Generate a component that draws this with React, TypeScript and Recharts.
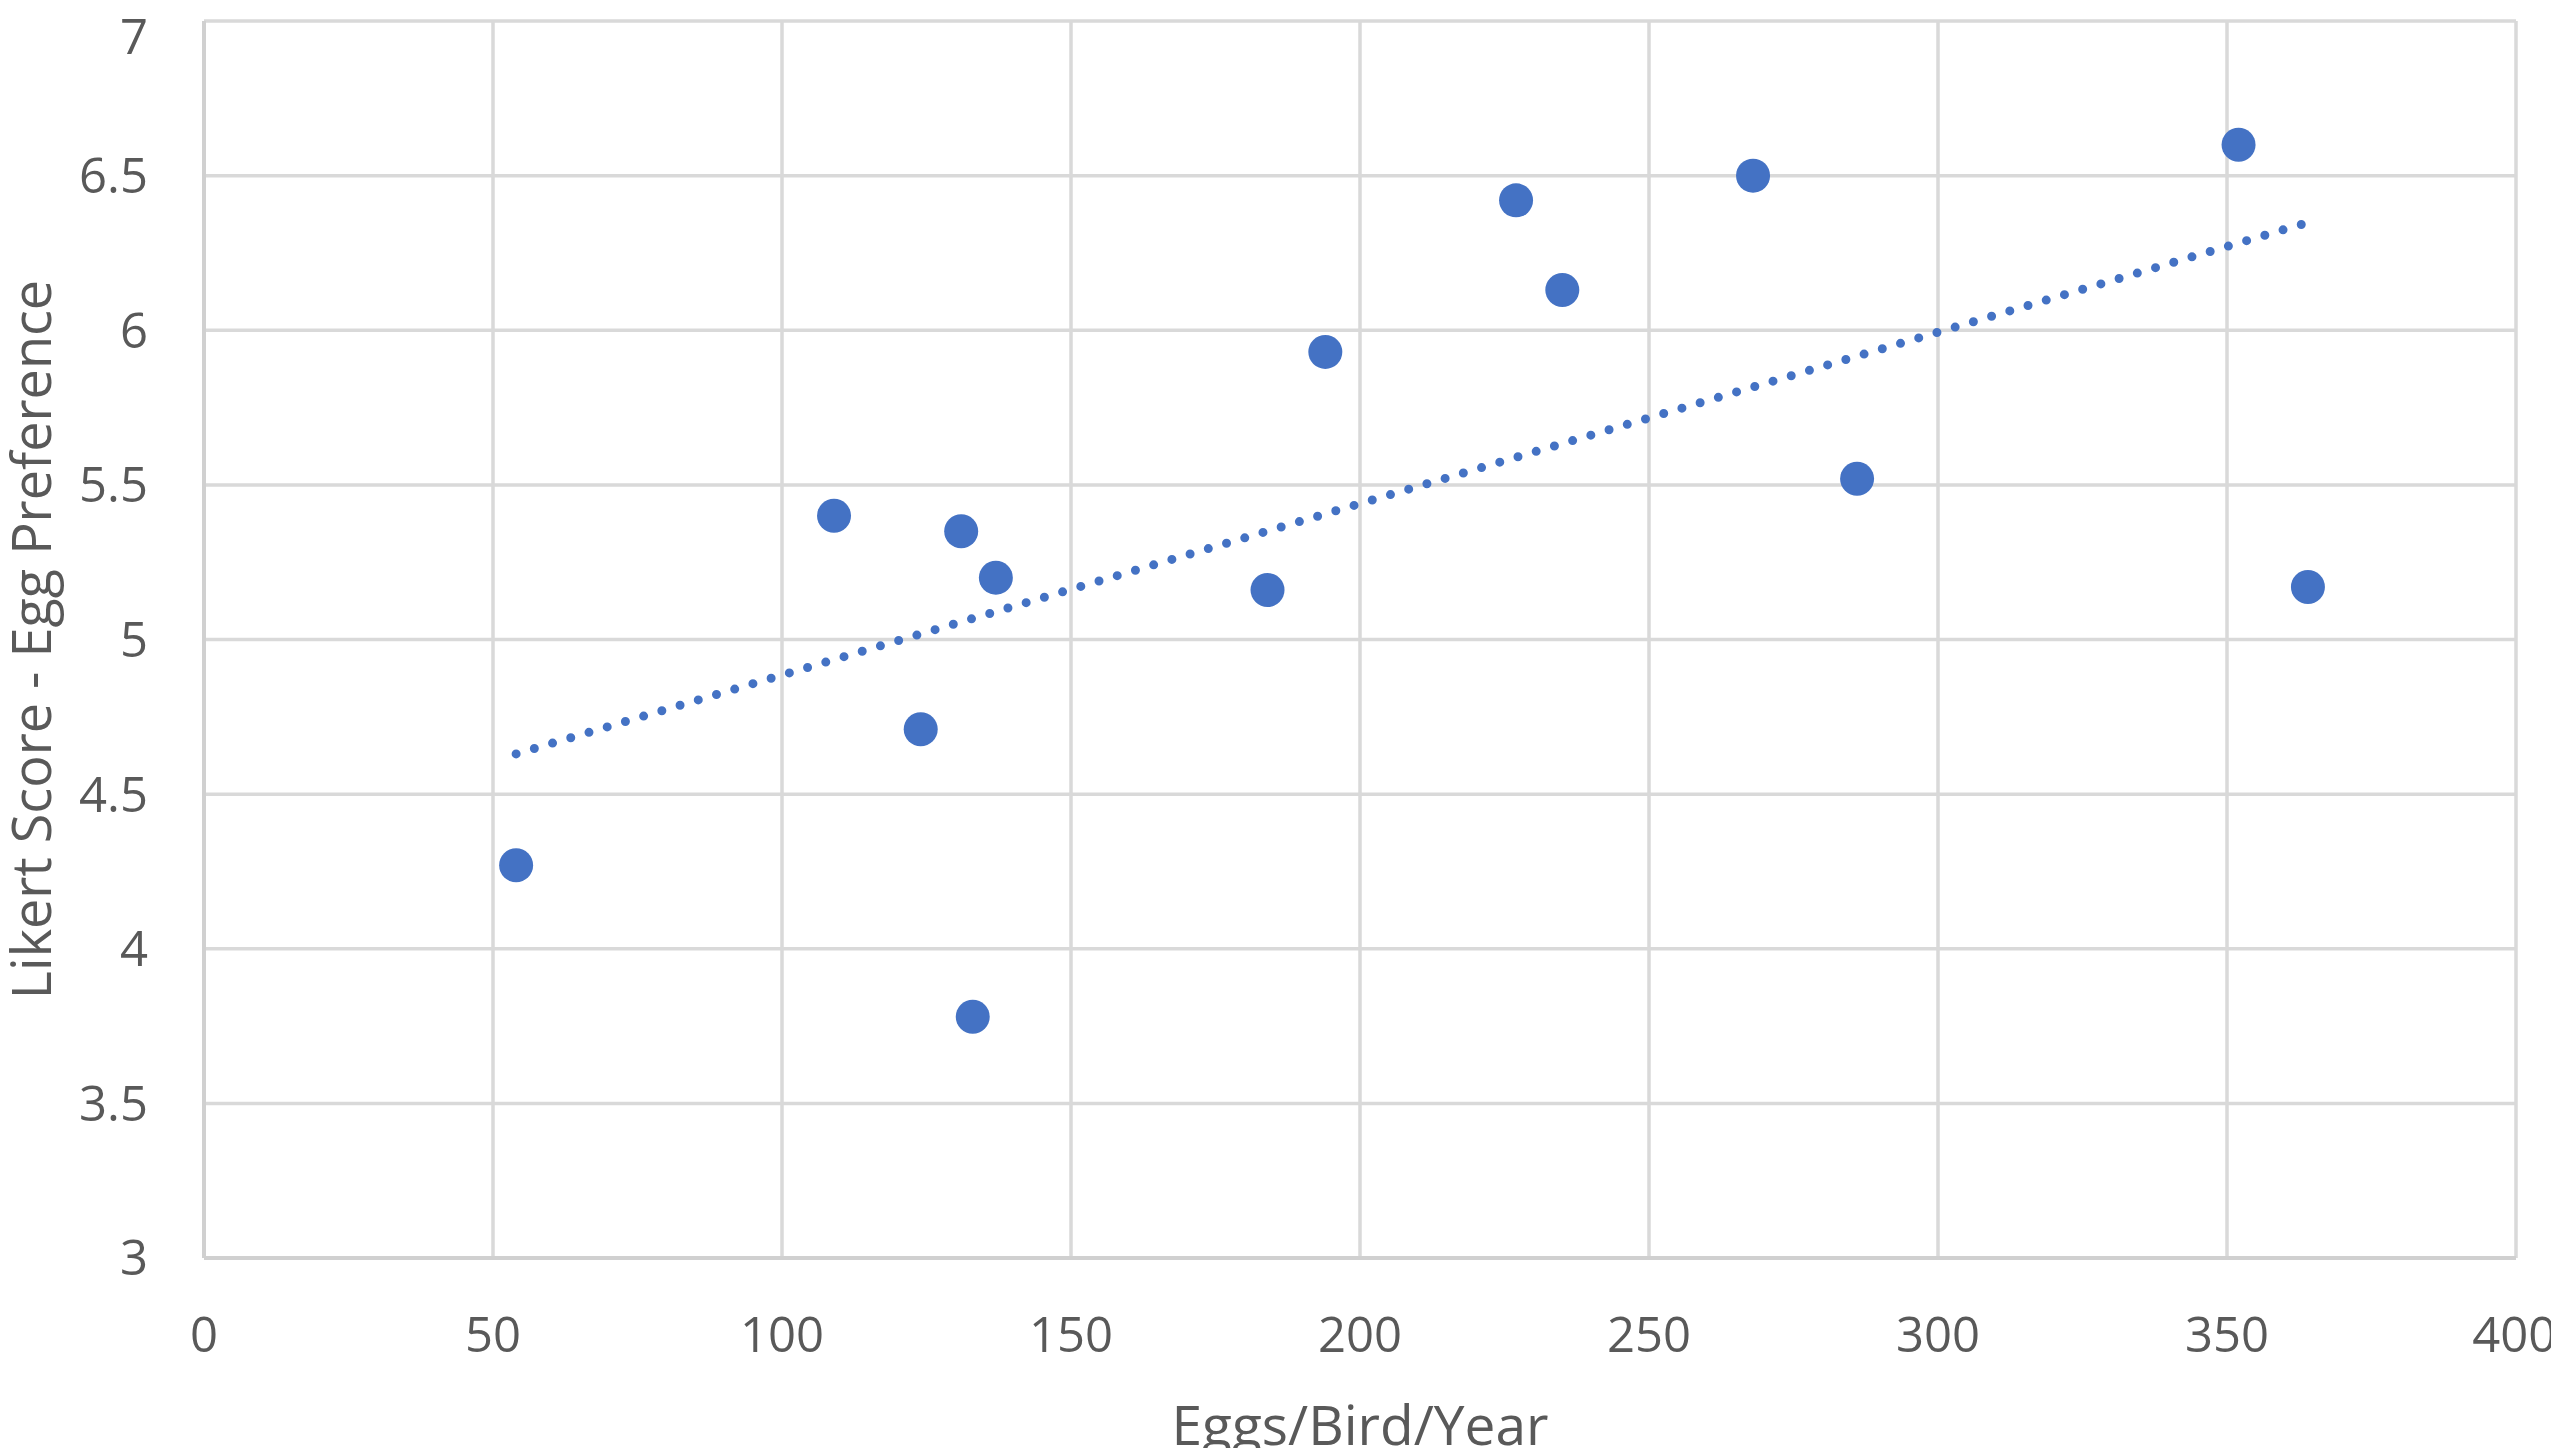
import {
  ScatterChart,
  Scatter,
  XAxis,
  YAxis,
  CartesianGrid,
  Label,
} from "recharts";

// values
const eggsPerBird = [54, 109, 124, 131, 133, 137, 184, 194, 227, 235, 268, 286, 352, 364];
const likertScore = [4.27, 5.4, 4.71, 5.35, 3.78, 5.2, 5.16, 5.93, 6.42, 6.13, 6.5, 5.52, 6.6, 5.17];

const xTicks = [0, 50, 100, 150, 200, 250, 300, 350, 400];
const yTicks = [3, 3.5, 4, 4.5, 5, 5.5, 6, 6.5, 7];

const BLUE = "#4472C4";
const GRID = "#d9d9d9";
const TEXT = "#595959";
const FONT = "'Open Sans', sans-serif";

const points = eggsPerBird.map((x, i) => ({ x, y: likertScore[i] }));

// linear trendline (least squares), like Excel's
function trendline(xs: number[], ys: number[]) {
  const n = xs.length;
  const mx = xs.reduce((a, b) => a + b, 0) / n;
  const my = ys.reduce((a, b) => a + b, 0) / n;
  let sxy = 0;
  let sxx = 0;
  xs.forEach((x, i) => {
    sxy += (x - mx) * (ys[i] - my);
    sxx += (x - mx) * (x - mx);
  });
  const slope = sxy / sxx;
  const icpt = my - slope * mx;
  const lo = Math.min(...xs);
  const hi = Math.max(...xs);
  return [
    { x: lo, y: icpt + slope * lo },
    { x: hi, y: icpt + slope * hi },
  ];
}

const trend = trendline(eggsPerBird, likertScore);

const Dot = (props: any) => <circle cx={props.cx} cy={props.cy} r={17} fill={BLUE} />;
const NoDot = () => <g />;

export default function App() {
  return (
    <>
      {/* let edge labels (7, 400, title descenders) spill past the svg box like the original */}
      <style>{"svg.recharts-surface { overflow: visible; }"}</style>
      <ScatterChart
        width={2543}
        height={1440}
        margin={{ top: 13, right: 35, left: 0, bottom: 0 }}
        style={{ fontFamily: FONT }}
      >
        <CartesianGrid stroke={GRID} strokeWidth={3.5} />
        <XAxis
          type="number"
          dataKey="x"
          domain={[0, 400]}
          ticks={xTicks}
          height={190}
          tickLine={false}
          tickSize={0}
          tickMargin={59}
          axisLine={{ stroke: "#d0d0d0", strokeWidth: 4 }}
          tick={{ fill: TEXT, fontSize: 49, fontFamily: FONT }}
        >
          <Label
            value="Eggs/Bird/Year"
            position="insideBottom"
            offset={3}
            style={{ fill: TEXT, fontSize: 55, fontFamily: FONT }}
          />
        </XAxis>
        <YAxis
          type="number"
          dataKey="y"
          domain={[3, 7]}
          ticks={yTicks}
          width={196}
          tickLine={false}
          tickSize={0}
          tickMargin={56}
          axisLine={{ stroke: "#d0d0d0", strokeWidth: 4 }}
          tick={{ fill: TEXT, fontSize: 49, fontFamily: FONT }}
        >
          <Label
            value="Likert Score - Egg Preference"
            angle={-90}
            position="insideLeft"
            offset={24}
            style={{ fill: TEXT, fontSize: 54, fontFamily: FONT, textAnchor: "middle" }}
          />
        </YAxis>
        <Scatter
          data={trend}
          shape={NoDot}
          line={{
            stroke: BLUE,
            strokeWidth: 9,
            strokeDasharray: "0 19",
            strokeLinecap: "round",
          }}
          isAnimationActive={false}
        />
        <Scatter data={points} shape={Dot} isAnimationActive={false} />
      </ScatterChart>
    </>
  );
}
